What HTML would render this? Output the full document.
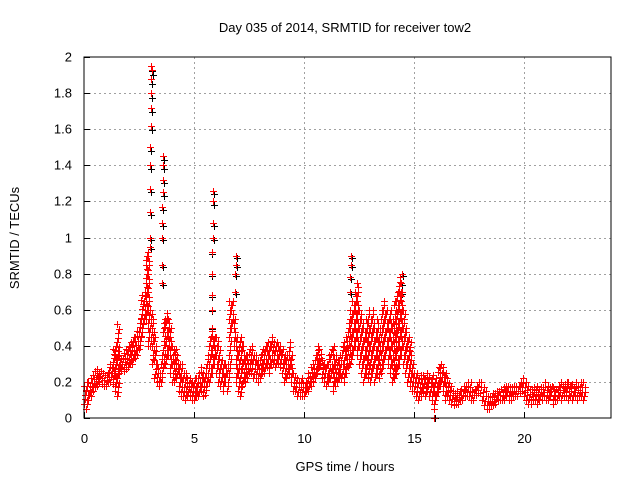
<!DOCTYPE html>
<html><head><meta charset="utf-8"><style>
body{margin:0;background:#fff}
svg{display:block;font-family:"Liberation Sans",sans-serif;font-size:13px}
</style></head><body>
<svg id="chart" width="640" height="480" xmlns="http://www.w3.org/2000/svg">
<rect width="640" height="480" fill="#fff"/>
<text x="345" y="32" text-anchor="middle">Day 035 of 2014, SRMTID for receiver tow2</text>
<text x="345" y="471" text-anchor="middle">GPS time / hours</text>
<text transform="translate(19,238) rotate(-90)" text-anchor="middle">SRMTID / TECUs</text>
<g id="grid"></g>
<g id="axes"></g>
<g id="marks"></g>
<rect x="84" y="57" width="527" height="361" fill="none" stroke="#000"/>
</svg>
<script>
const xTicks=[0,5,10,15,20];
const yTicks=[0,0.2,0.4,0.6,0.8,1,1.2,1.4,1.6,1.8,2];
const yTickLabels=["0","0.2","0.4","0.6","0.8","1","1.2","1.4","1.6","1.8","2"];
const loVals=[.08,.05,.1,.12,.15,.17,.18,.2,.19,.18,
.18,.2,.2,.19,.15,.12,.25,.27,.26,.27,
.28,.3,.3,.33,.35,.38,.45,.52,.55,.4,
.4,.3,.22,.2,.18,.2,.28,.3,.35,.25,
.2,.2,.22,.15,.12,.12,.1,.12,.12,.1,
.1,.12,.12,.15,.12,.13,.2,.2,.25,.3,
.25,.2,.18,.15,.2,.15,.25,.5,.4,.2,
.15,.12,.18,.2,.22,.25,.25,.22,.22,.2,
.22,.25,.25,.28,.25,.3,.3,.28,.3,.28,
.25,.2,.22,.25,.2,.15,.15,.12,.12,.12,
.12,.15,.15,.18,.2,.22,.25,.28,.22,.2,
.18,.2,.22,.15,.18,.2,.22,.22,.2,.25,
.28,.3,.35,.4,.35,.3,.25,.2,.25,.22,
.2,.25,.2,.25,.22,.25,.3,.35,.3,.25,
.2,.22,.25,.3,.35,.3,.25,.2,.18,.15,
.15,.12,.1,.12,.14,.12,.15,.12,.1,.05,
.12,.15,.18,.15,.1,.12,.1,.08,.07,.08,
.08,.1,.1,.12,.12,.12,.1,.1,.13,.14,
.14,.1,.07,.05,.05,.07,.07,.08,.1,.1,
.1,.1,.12,.1,.1,.12,.12,.12,.14,.15,
.12,.1,.08,.08,.1,.1,.08,.1,.1,.12,
.1,.1,.12,.08,.1,.1,.12,.1,.12,.12,
.1,.12,.1,.12,.1,.12,.12,.1];
const hiVals=[.18,.2,.2,.22,.24,.26,.27,.26,.25,.24,
.25,.28,.3,.38,.4,.52,.35,.33,.36,.38,
.4,.42,.45,.45,.48,.55,.68,.7,.9,.92,
.6,.55,.45,.3,.25,.35,.55,.58,.55,.5,
.4,.38,.35,.3,.3,.25,.25,.22,.22,.2,
.22,.22,.25,.28,.25,.3,.35,.45,.48,.45,
.45,.4,.32,.3,.3,.3,.65,.65,.55,.45,
.42,.45,.4,.35,.35,.38,.4,.35,.35,.32,
.35,.38,.4,.42,.4,.45,.42,.42,.4,.4,
.38,.35,.35,.42,.35,.25,.22,.2,.2,.22,
.2,.22,.25,.28,.3,.35,.4,.38,.32,.3,
.3,.35,.38,.4,.35,.32,.35,.4,.42,.45,
.55,.6,.65,.7,.75,.6,.55,.5,.55,.6,
.55,.6,.5,.55,.5,.6,.65,.6,.55,.6,
.55,.65,.7,.78,.7,.6,.5,.45,.42,.3,
.25,.25,.22,.24,.24,.22,.25,.22,.24,.2,
.22,.28,.3,.28,.25,.22,.18,.15,.14,.15,
.15,.16,.18,.18,.2,.2,.15,.16,.18,.2,
.2,.17,.15,.12,.12,.14,.14,.15,.15,.16,
.17,.18,.18,.17,.17,.18,.18,.18,.2,.22,
.2,.18,.16,.16,.17,.18,.16,.17,.17,.2,
.18,.17,.18,.17,.16,.18,.2,.18,.19,.2,
.2,.18,.19,.2,.18,.2,.2,.17];
const spikeTimes=[3.0,3.0,3.0,3.0,3.0,3.0,3.05,3.05,3.05,3.05,3.05,3.1,
3.55,3.55,3.55,3.55,3.55,3.6,3.6,3.6,3.6,
5.8,5.8,5.8,5.8,5.8,5.85,5.85,5.85,5.85,
6.85,6.85,6.9,6.9,12.1,12.1,12.15,12.15,14.4,14.4,14.45,15.9];
const spikeVals=[.95,1.0,1.14,1.27,1.4,1.5,1.62,1.72,1.8,1.88,1.95,1.93,
.75,.85,1.0,1.08,1.17,1.25,1.32,1.4,1.45,
.5,.6,.68,.8,.92,1.0,1.08,1.2,1.26,
.7,.8,.85,.9,.7,.78,.85,.9,.7,.75,.8,0];
const X=t=>84+t*22, Y=v=>418-v*180.5;
const NS="http://www.w3.org/2000/svg";
const grid=document.getElementById('grid'), axes=document.getElementById('axes'), marks=document.getElementById('marks');
function line(p,x1,y1,x2,y2,st,dash){const l=document.createElementNS(NS,'line');l.setAttribute('x1',x1);l.setAttribute('y1',y1);l.setAttribute('x2',x2);l.setAttribute('y2',y2);l.setAttribute('stroke',st);if(dash)l.setAttribute('stroke-dasharray',dash);p.appendChild(l);return l;}
function txt(x,y,s,anchor){const t=document.createElementNS(NS,'text');t.setAttribute('x',x);t.setAttribute('y',y);t.setAttribute('text-anchor',anchor);t.textContent=s;axes.appendChild(t);return t;}
yTicks.forEach((v,i)=>{const y=Math.round(Y(v))+0.5;
 if(i>0&&i<yTicks.length-1){const g=line(grid,84,y,611,y,'#a0a0a0','2,3');
 
 }
 const tk=line(axes,84,y,90,y,'#000');
 
 
 const lb=txt(72,y+4,yTickLabels[i],'end');
 
 });
xTicks.forEach(t=>{const x=Math.round(X(t))+0.5;
 if(t>0){const g=line(grid,x,57,x,418,'#a0a0a0','2,3');
 
 }
 const tk=line(axes,x,418,x,412,'#000');
 
 
 const lb=txt(x,443,String(t),'middle');
 
 });
function plus(t,v,col){const x=Math.round(X(t))+0.5,y=Math.round(Y(v))+0.5;
 const p=document.createElementNS(NS,'path');
 p.setAttribute('d',`M${x-3.5} ${y}h7M${x} ${y-3.5}v7`);
 p.setAttribute('stroke',col);
 
 
 marks.appendChild(p);}
// black series mostly hidden behind red
spikeTimes.forEach((t,i)=>plus(t+0.04,spikeVals[i]*0.985,'#000'));
loVals.forEach((lo,i)=>{const hi=hiVals[i],t=i*0.1;
 const n=Math.max(2,Math.round((hi-lo)/0.025));
 for(let k=0;k<=n;k++){plus(t+(k%4)*0.025,lo+(hi-lo)*k/n,'#f00');}});
spikeTimes.forEach((t,i)=>plus(t,spikeVals[i],'#f00'));
</script>
</body></html>
